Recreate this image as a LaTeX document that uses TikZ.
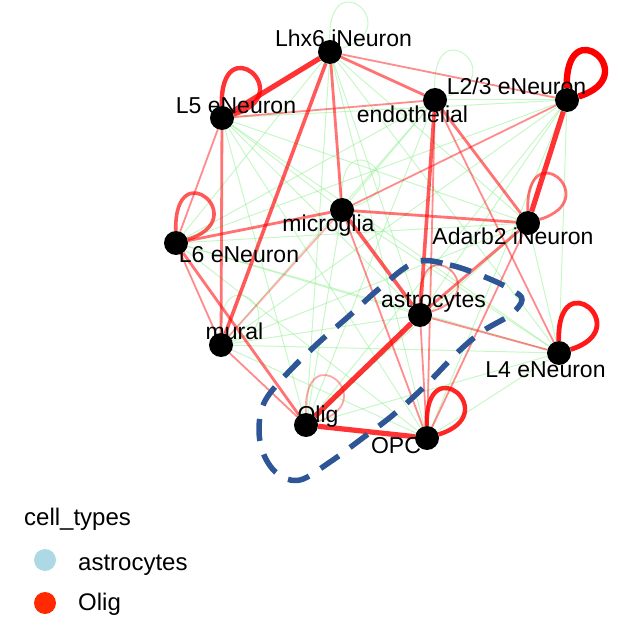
\documentclass[tikz,border=0pt]{standalone}
\usepackage{fontspec}
\setmainfont{Liberation Sans}
\usepackage{tikz}
\usetikzlibrary{arrows.meta}
\definecolor{posred}{HTML}{FF0000}
\definecolor{neggreen}{HTML}{90EE90}
\definecolor{hullblue}{HTML}{2E5596}
\definecolor{astroblue}{HTML}{ADD8E6}
\definecolor{oligred}{HTML}{FF2A00}
\pgfdeclarelayer{background}
\pgfsetlayers{background,main}
\tikzset{
  vtx/.style={circle,fill=black,minimum size=24pt,inner sep=0pt},
  lab/.style={anchor=base,inner sep=0pt,font=\fontsize{23}{27}\selectfont},
  neg/.style={neggreen,draw opacity=0.5,line width=1pt},
  posa/.style={posred,draw opacity=0.45,line width=1.8pt},
  posb/.style={posred,draw opacity=0.55,line width=2.8pt},
  posc/.style={posred,draw opacity=0.65,line width=3.6pt},
  posd/.style={posred,draw opacity=0.8,line width=5.2pt},
  selfloop/.style={to path={.. controls +(-2,-92) and +(78,-24) .. (\tikztotarget)}}
}

\begin{document}
\begin{tikzpicture}[>=Latex,x=1pt,y=-1pt]
\useasboundingbox (0,0) rectangle (621,620);
\node[lab] (lhx-l) at (343.5,47) {Lhx6 iNeuron};
\node[lab] (lfive-l) at (236,114) {L5 eNeuron};
\node[lab] (endo-l) at (412.5,123) {endothelial};
\node[lab] (ltwo-l) at (516.5,95) {L2/3 eNeuron};
\node[lab] (micro-l) at (328.5,232) {microglia};
\node[lab] (lsix-l) at (239,263) {L6 eNeuron};
\node[lab] (adarb-l) at (513,245) {Adarb2 iNeuron};
\node[lab] (astro-l) at (433.5,308) {astrocytes};
\node[lab] (mural-l) at (234.5,339) {mural};
\node[lab] (lfour-l) at (545.5,377) {L4 eNeuron};
\node[lab] (olig-l) at (318,422) {Olig};
\node[lab] (opc-l) at (396,453) {OPC};
\node[vtx] (lhx) at (330,52) {};
\node[vtx] (lfive) at (222,118) {};
\node[vtx] (endo) at (435,100) {};
\node[vtx] (ltwo) at (567,100) {};
\node[vtx] (micro) at (342,210) {};
\node[vtx] (lsix) at (176,243) {};
\node[vtx] (adarb) at (528,223) {};
\node[vtx] (astro) at (420,315) {};
\node[vtx] (mural) at (221,345) {};
\node[vtx] (lfour) at (559,353) {};
\node[vtx] (olig) at (306,425) {};
\node[vtx] (opc) at (427,438) {};
\begin{pgfonlayer}{background}
  \foreach \a/\b in {lhx/lsix,lhx/adarb,lhx/astro,lhx/lfour,lhx/olig,lhx/opc,
      lfive/ltwo,lfive/micro,lfive/adarb,lfive/astro,lfive/lfour,lfive/olig,lfive/opc,
      endo/ltwo,endo/micro,endo/lsix,endo/mural,endo/olig,ltwo/lsix,ltwo/astro,
      ltwo/mural,ltwo/lfour,ltwo/olig,ltwo/opc,micro/lfour,micro/olig,lsix/adarb,
      lsix/astro,lsix/lfour,lsix/opc,adarb/mural,adarb/lfour,adarb/olig,astro/mural,
      mural/lfour,mural/opc,lfour/olig,lfour/opc}
    \draw[neg] (\a) -- (\b);
  \foreach \a in {lhx,endo,micro,mural}
    \draw[neg] (\a) to[selfloop] (\a);
  \foreach \a/\b in {lhx/ltwo,lfive/endo,lfive/lsix,endo/lfour,endo/opc,ltwo/micro,
      micro/opc,lsix/mural,mural/olig,astro/lfour,astro/opc,adarb/opc}
    \draw[posa] (\a) -- (\b);
  \draw[posa,draw opacity=0.3] (micro) -- (mural);
  \foreach \a/\b in {lhx/endo,lhx/micro,lfive/mural,endo/adarb,micro/lsix,
      micro/adarb,lsix/olig,astro/adarb}
    \draw[posb] (\a) -- (\b);
  \foreach \a/\b in {lhx/mural,endo/astro,micro/astro}
    \draw[posc] (\a) -- (\b);
  \foreach \a/\b in {lhx/lfive,ltwo/adarb,astro/olig,olig/opc}
    \draw[posd] (\a) -- (\b);
  \draw[posa,draw opacity=0.35] (olig) to[selfloop] (olig);
  \draw[posa] (astro) to[selfloop] (astro);
  \draw[posb] (adarb) to[selfloop] (adarb);
  \draw[posc] (lsix) to[selfloop] (lsix);
  \draw[posd,line width=4.4pt] (lfive) to[selfloop] (lfive);
  \draw[posd,draw opacity=0.85,line width=4.4pt] (opc) to[selfloop] (opc);
  \draw[posd,draw opacity=0.9,line width=4.8pt] (lfour) to[selfloop] (lfour);
  \draw[posd,draw opacity=1,line width=6.4pt] (ltwo) to[selfloop] (ltwo);
\end{pgfonlayer}
\draw[hullblue,line width=5.5pt,dash pattern=on 22pt off 14pt] plot[smooth cycle,tension=0.6] coordinates {
  (416,262) (450,265) (485,277) (512,290) (522,300) (510,315) (483,331)
  (458,352) (425,386) (393,415) (360,440) (330,462) (300,480) (278,474)
  (264,455) (259,430) (264,403) (283,378) (316,345) (349,316) (380,288)};
\node[anchor=base west,inner sep=0pt,font=\fontsize{24}{28}\selectfont] (key) at (24,525) {cell\_types};
\node[circle,fill=astroblue,minimum size=22pt,inner sep=0pt] (key-a) at (45,560) {};
\node[circle,fill=oligred,minimum size=22pt,inner sep=0pt] (key-o) at (45,603) {};
\node[anchor=base west,inner sep=0pt,font=\fontsize{24}{28}\selectfont] (key-al) at (78,570) {astrocytes};
\node[anchor=base west,inner sep=0pt,font=\fontsize{24}{28}\selectfont] (key-ol) at (78,610) {Olig};
\end{tikzpicture}
\end{document}
